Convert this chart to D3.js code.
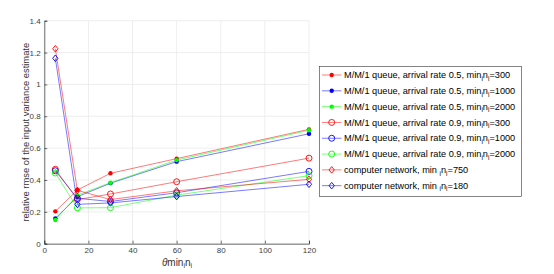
<!DOCTYPE html>
<html>
<head>
<meta charset="utf-8">
<script src="https://cdn.jsdelivr.net/npm/d3@7"></script>
<style>
  body { margin: 0; background: #fff; }
  text { font-family: "Liberation Sans", Arial, sans-serif; }
</style>
</head>
<body>
<svg id="chart" width="554" height="274"></svg>
<script>
const xVals = [5, 15, 30, 60, 120];
const xTicks = [0, 20, 40, 60, 80, 100, 120];
const yTicks = [0, 0.2, 0.4, 0.6, 0.8, 1, 1.2, 1.4];

const mm05n300 = [0.203, 0.337, 0.442, 0.534, 0.718];
const mm05n1000 = [0.159, 0.295, 0.38, 0.515, 0.69];
const mm05n2000 = [0.149, 0.305, 0.383, 0.525, 0.712];
const mm09n300 = [0.467, 0.277, 0.312, 0.389, 0.537];
const mm09n1000 = [0.458, 0.285, 0.265, 0.32, 0.454];
const mm09n2000 = [0.444, 0.225, 0.226, 0.305, 0.427];
const cn750 = [1.224, 0.335, 0.277, 0.332, 0.404];
const cn180 = [1.164, 0.247, 0.256, 0.296, 0.373];

const series = [
  { pre: "M/M/1 queue, arrival rate 0.5, min", post: "=300", values: mm05n300, color: "#ff0000", marker: "dot", sp: false },
  { pre: "M/M/1 queue, arrival rate 0.5, min", post: "=1000", values: mm05n1000, color: "#0000ff", marker: "dot", sp: false },
  { pre: "M/M/1 queue, arrival rate 0.5, min", post: "=2000", values: mm05n2000, color: "#00ff00", marker: "dot", sp: false },
  { pre: "M/M/1 queue, arrival rate 0.9, min", post: "=300", values: mm09n300, color: "#ff0000", marker: "circle", sp: false },
  { pre: "M/M/1 queue, arrival rate 0.9, min", post: "=1000", values: mm09n1000, color: "#0000ff", marker: "circle", sp: false },
  { pre: "M/M/1 queue, arrival rate 0.9, min", post: "=2000", values: mm09n2000, color: "#00ff00", marker: "circle", sp: false },
  { pre: "computer network, min", post: "=750", values: cn750, color: "#ff0000", marker: "diamond", sp: true },
  { pre: "computer network, min", post: "=180", values: cn180, color: "#0000ff", marker: "diamond", sp: true }
];

const svg = d3.select("#chart");
const m = { left: 44.3, right: 309, top: 20.7, bottom: 243.7 };

const x = d3.scaleLinear().domain([0, 120]).range([m.left, m.right]);
const y = d3.scaleLinear().domain([0, 1.4]).range([m.bottom, m.top]);

// grid
const grid = svg.append("g");
grid.selectAll("line.gx").data(xTicks).enter().append("line")
  .attr("x1", d => x(d)).attr("x2", d => x(d))
  .attr("y1", m.top).attr("y2", m.bottom)
  .attr("stroke", "#e6e6e6").attr("stroke-width", 0.7);
grid.selectAll("line.gy").data(yTicks).enter().append("line")
  .attr("x1", m.left).attr("x2", m.right)
  .attr("y1", d => y(d)).attr("y2", d => y(d))
  .attr("stroke", "#e6e6e6").attr("stroke-width", 0.7);

// axes
const xAxis = d3.axisBottom(x).tickValues(xTicks).tickSize(-3).tickPadding(4).tickFormat(d3.format("d"));
const yAxis = d3.axisLeft(y).tickValues(yTicks).tickSize(-3).tickPadding(3.6).tickFormat(d => d3.format("")(d));

const gx = svg.append("g").attr("transform", `translate(0,${m.bottom})`).call(xAxis);
const gy = svg.append("g").attr("transform", `translate(${m.left},0)`).call(yAxis);
[gx, gy].forEach(g => {
  g.select(".domain").attr("stroke", "#333").attr("stroke-width", 0.7);
  g.selectAll(".tick line").attr("stroke", "#333").attr("stroke-width", 0.7);
  g.selectAll(".tick text").attr("fill", "#404040").style("font-size", "8px")
    .style("font-family", "Liberation Sans, Arial, sans-serif");
});

// labels
svg.append("text")
  .attr("transform", `translate(28.5,${(m.top + m.bottom) / 2}) rotate(-90)`)
  .attr("text-anchor", "middle")
  .attr("fill", "#333")
  .style("font-size", "9.4px")
  .text("relative rmse of the input variance estimate");

const xl = svg.append("text")
  .attr("x", 177).attr("y", 265.5)
  .attr("text-anchor", "middle")
  .attr("fill", "#333")
  .style("font-size", "10px");
xl.append("tspan").style("font-style", "italic").text("θ");
xl.append("tspan").text("min");
xl.append("tspan").attr("dy", 2.8).style("font-size", "7px").text("i");
xl.append("tspan").attr("dy", -2.8).text("n");
xl.append("tspan").attr("dy", 2.8).style("font-size", "7px").text("i");

// markers
function drawMarker(g, type, cx, cy, color) {
  if (type === "dot") {
    g.append("circle").attr("cx", cx).attr("cy", cy).attr("r", 2.2).attr("fill", color);
  } else if (type === "circle") {
    g.append("circle").attr("cx", cx).attr("cy", cy).attr("r", 3)
      .attr("fill", "none").attr("stroke", color).attr("stroke-width", 0.9);
  } else {
    const s = 3.3;
    g.append("path")
      .attr("d", `M${cx},${cy - s}L${cx + s * 0.8},${cy}L${cx},${cy + s}L${cx - s * 0.8},${cy}Z`)
      .attr("fill", "none").attr("stroke", color).attr("stroke-width", 0.9);
  }
}

const line = d3.line().x(d => x(d[0])).y(d => y(d[1]));
const plot = svg.append("g");
series.forEach(s => {
  const pts = xVals.map((xv, i) => [xv, s.values[i]]);
  const g = plot.append("g");
  g.append("path").datum(pts).attr("d", line)
    .attr("fill", "none").attr("stroke", s.color).attr("stroke-width", 0.7).attr("stroke-opacity", 0.75);
  pts.forEach(p => drawMarker(g, s.marker, x(p[0]), y(p[1]), s.color));
});

// legend
const lg = svg.append("g");
lg.append("rect").attr("x", 319.5).attr("y", 66.5).attr("width", 202).attr("height", 130)
  .attr("fill", "#fff").attr("stroke", "#333").attr("stroke-width", 0.6);
const rowY = d3.scaleLinear().domain([0, 7]).range([75, 185.7]);
series.forEach((s, i) => {
  const cy = rowY(i);
  lg.append("line").attr("x1", 322).attr("x2", 341.5).attr("y1", cy).attr("y2", cy)
    .attr("stroke", s.color).attr("stroke-width", 0.7).attr("stroke-opacity", 0.75);
  drawMarker(lg, s.marker, 331.7, cy, s.color);
  const t = lg.append("text").attr("x", 344).attr("y", cy + 3.2)
    .attr("fill", "#000").style("font-size", "9.2px");
  t.append("tspan").text(s.pre + (s.sp ? " " : ""));
  t.append("tspan").attr("dy", 2.5).style("font-size", "6.5px").text("i");
  t.append("tspan").attr("dy", -2.5).text("n");
  t.append("tspan").attr("dy", 2.5).style("font-size", "6.5px").text("i");
  t.append("tspan").attr("dy", -2.5).text(s.post);
});
</script>
</body>
</html>
